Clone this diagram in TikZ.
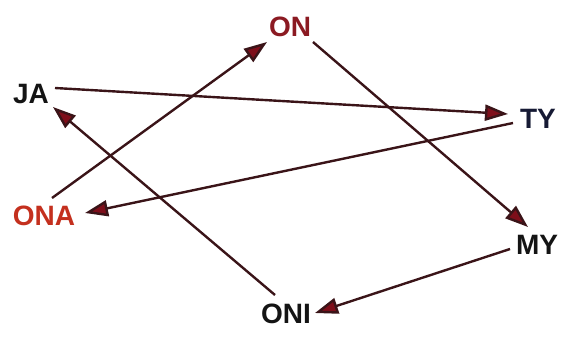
\documentclass[tikz,border=0pt]{standalone}
\usepackage{fontspec}
\setmainfont{Liberation Sans}
\usetikzlibrary{arrows.meta,calc}
\definecolor{linecol}{HTML}{3A1418}
\definecolor{tipcol}{HTML}{7E0E1A}
\definecolor{oncol}{HTML}{8B1A22}
\definecolor{onacol}{HTML}{C4301E}
\definecolor{tycol}{HTML}{161A34}
\definecolor{blk}{HTML}{141414}
\begin{document}
\begin{tikzpicture}[x=1pt,y=-1pt,
  lbl/.style={inner sep=0pt,font=\fontsize{28}{28}\selectfont\bfseries},
  conn/.style={draw=linecol,line width=2.4pt,-{Triangle[length=23pt,width=16pt,fill=tipcol]}}]
\useasboundingbox (0,0) rectangle (572,338);
\node[lbl,text=blk] (JA) at (31,94) {JA};
\node[lbl,text=oncol] (ON) at (290,27) {ON};
\node[lbl,text=tycol] (TY) at (538,119) {TY};
\node[lbl,text=onacol] (ONA) at (44,216) {ONA};
\node[lbl,text=blk] (MY) at (537,245) {MY};
\node[lbl,text=blk] (ONI) at (286,314) {ONI};
\draw[conn] ($(JA.center)+(24,-6)$) -- ($(TY.center)+(-30,-5)$);
\draw[conn] ($(ONA.center)+(8,-18)$) -- ($(ON.center)+(-23,15)$);
\draw[conn] ($(ON.center)+(23,15)$) -- ($(MY.center)+(-9,-18)$);
\draw[conn] ($(TY.center)+(-25,4)$) -- ($(ONA.center)+(41,-3)$);
\draw[conn] ($(MY.center)+(-27,4)$) -- ($(ONI.center)+(29,-1)$);
\draw[conn] ($(ONI.center)+(-11,-19)$) -- ($(JA.center)+(22,13)$);
\end{tikzpicture}
\end{document}
